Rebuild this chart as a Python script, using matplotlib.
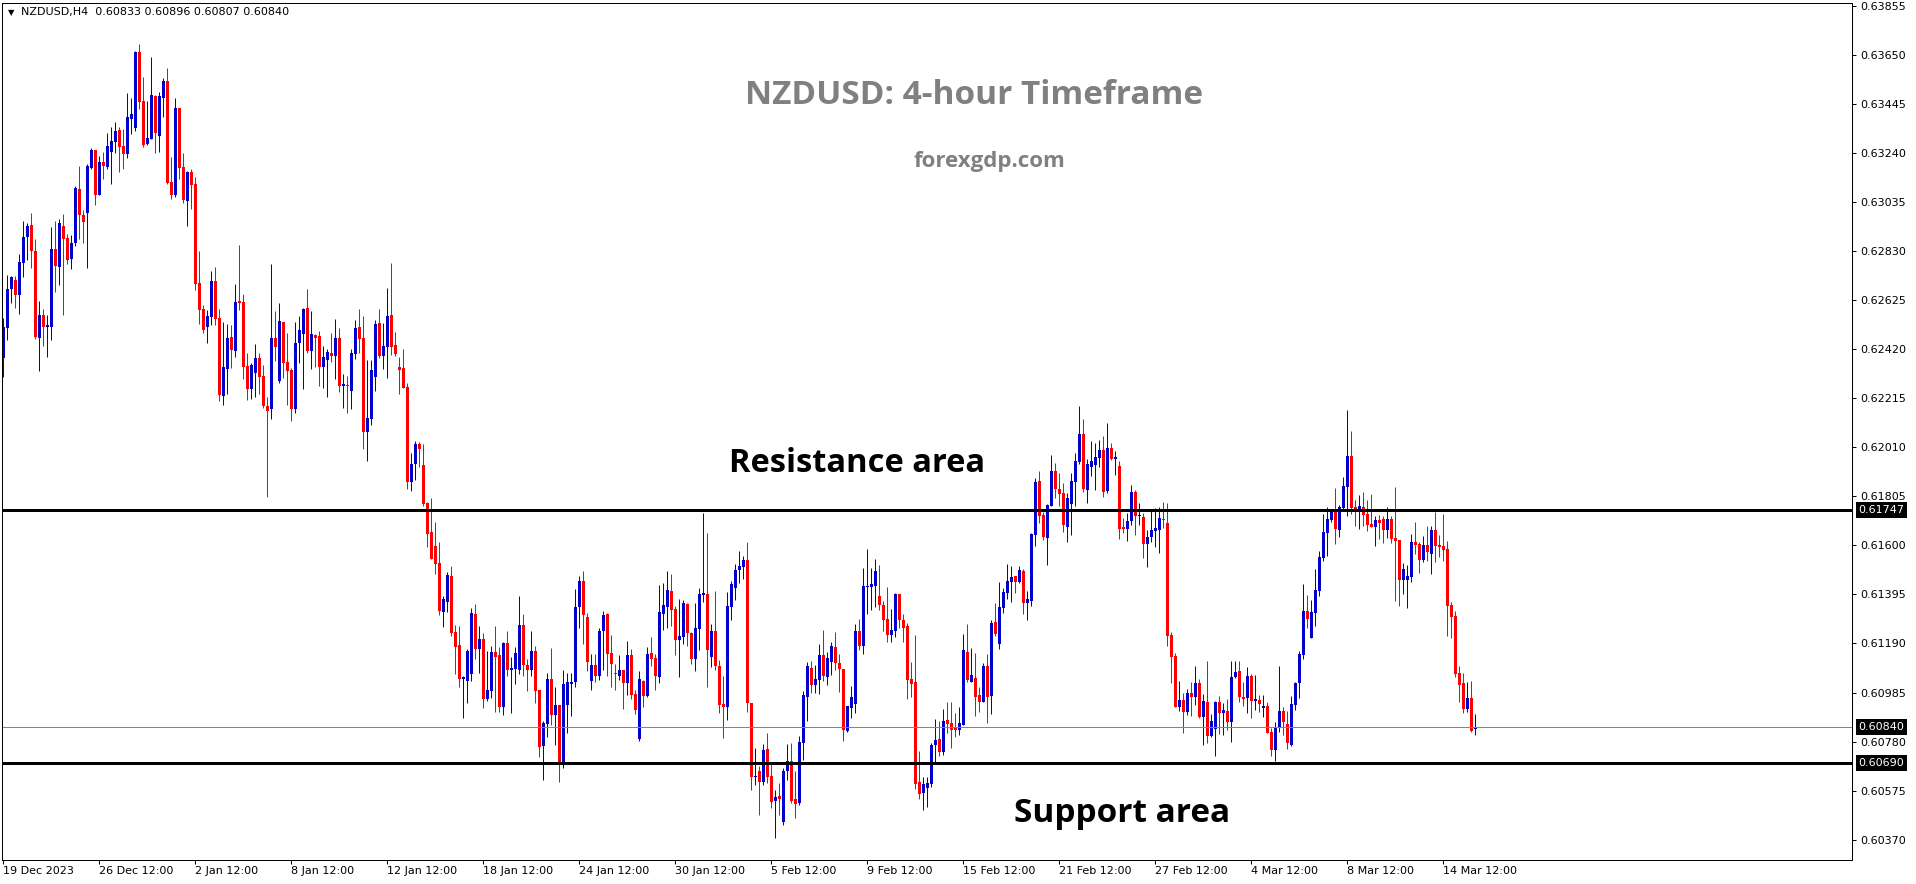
import numpy as np
import matplotlib
matplotlib.use('Agg')
import matplotlib.pyplot as plt
from matplotlib.transforms import blended_transform_factory

# NZDUSD H4 candles, prices in points (1e-5)
opens = [
    62382, 62507, 62670, 62709, 62647, 62782, 62888, 62939, 62832, 62465, 62563, 62514,
    62514, 62839, 62765, 62935, 62883, 62797, 62862, 63088, 62981, 62991, 63179, 63253,
    63064, 63201, 63183, 63246, 63287, 63336, 63269, 63236, 63382, 63343, 63662, 63457,
    63278, 63298, 63480, 63311, 63471, 63541, 63117, 63064, 63427, 63181, 63041, 63159,
    63110, 62695, 62587, 62514, 62556, 62705, 62549, 62226, 62337, 62470, 62414, 62621,
    62616, 62350, 62253, 62321, 62385, 62307, 62182, 62170, 62465, 62287, 62532, 62365,
    62333, 62170, 62444, 62483, 62590, 62413, 62479, 62475, 62347, 62374, 62406, 62391,
    62465, 62267, 62270, 62246, 62399, 62511, 62465, 62075, 62128, 62305, 62530, 62391,
    62430, 62562, 62437, 62347, 62340, 62263, 61866, 61940, 62023, 61936, 61775, 61654,
    61597, 61525, 61323, 61362, 61472, 61239, 61183, 61041, 61034, 61062, 61313, 61167,
    61208, 60958, 60992, 61153, 61142, 60926, 61194, 61077, 61084, 61077, 61268, 61098,
    61077, 61159, 60996, 60763, 60854, 61042, 60892, 60933, 60690, 60933, 61021, 61027,
    61341, 61449, 61302, 61035, 61100, 61056, 61244, 61314, 61149, 61068, 61056, 61080,
    61024, 61140, 60979, 60791, 61035, 60971, 61151, 61131, 61048, 61314, 61344, 61410,
    61334, 61205, 61219, 61355, 61233, 61126, 61251, 61393, 61397, 61135, 61243, 61096,
    60937, 60926, 61344, 61421, 61497, 61511, 61539, 60943, 60630, 60655, 60613, 60749,
    60634, 60532, 60553, 60443, 60655, 60699, 60540, 60525, 60776, 60968, 61089, 61017,
    61038, 61140, 61048, 61114, 61177, 61110, 61084, 60826, 60919, 60937, 61244, 61181,
    61424, 61425, 61431, 61389, 61351, 61293, 61226, 61240, 61397, 61286, 61261, 61042,
    61027, 60610, 60564, 60585, 60603, 60766, 60791, 60738, 60871, 60857, 60836, 60829,
    60850, 61153, 61031, 61045, 60975, 60947, 61094, 60971, 61279, 61188, 61337, 61402,
    61448, 61472, 61445, 61493, 61360, 61369, 61643, 61869, 61727, 61632, 61766, 61911,
    61835, 61817, 61678, 61773, 61866, 61949, 62065, 61831, 61929, 61936, 61966, 61998,
    61827, 62005, 61961, 61931, 61678, 61667, 61702, 61824, 61722, 61720, 61604, 61636,
    61661, 61664, 61709, 61692, 61225, 61139, 60926, 60954, 60905, 60984, 60967, 61026,
    60884, 60947, 60804, 60831, 60947, 60901, 60908, 60863, 61048, 61076, 60967, 60960,
    61054, 60951, 60954, 60919, 60928, 60821, 60745, 60839, 60908, 60853, 60765, 60933,
    61026, 61142, 61327, 61214, 61318, 61410, 61548, 61653, 61706, 61745, 61664, 61757,
    61845, 61973, 61761, 61754, 61759, 61731, 61689, 61678, 61706, 61710, 61664, 61710,
    61629, 61622, 61455, 61455, 61469, 61612, 61605, 61539, 61601, 61562, 61664, 61601,
    61597, 61583, 61351, 61305, 61065, 61023, 60915, 60963, 60833,
]
highs = [
    62549, 62730, 62727, 62727, 62818, 62956, 62946, 62991, 62881, 62623, 62588, 62563,
    62932, 62956, 62964, 62985, 62901, 62897, 63103, 63186, 63002, 63194, 63262, 63253,
    63227, 63244, 63325, 63349, 63370, 63349, 63340, 63491, 63470, 63668, 63695, 63559,
    63457, 63643, 63482, 63496, 63555, 63597, 63225, 63468, 63427, 63241, 63166, 63173,
    63141, 62832, 62605, 62584, 62748, 62765, 62587, 62532, 62525, 62521, 62693, 62856,
    62651, 62406, 62363, 62440, 62405, 62353, 62221, 62775, 62579, 62614, 62535, 62489,
    62340, 62535, 62558, 62594, 62671, 62579, 62483, 62497, 62433, 62420, 62486, 62546,
    62509, 62316, 62307, 62420, 62541, 62586, 62560, 62374, 62374, 62541, 62586, 62530,
    62677, 62781, 62493, 62388, 62420, 62280, 61987, 62036, 62030, 62023, 61780, 61796,
    61696, 61612, 61389, 61490, 61513, 61267, 61263, 61054, 61165, 61337, 61357, 61263,
    61235, 61158, 61179, 61263, 61177, 61198, 61240, 61135, 61177, 61389, 61314, 61126,
    61240, 61181, 60996, 60864, 61068, 61173, 61006, 60933, 61080, 61068, 61066, 61418,
    61470, 61491, 61319, 61146, 61146, 61256, 61326, 61316, 61226, 61105, 61140, 61080,
    61202, 61167, 60996, 61075, 61038, 61177, 61219, 61145, 61435, 61442, 61493, 61481,
    61347, 61376, 61372, 61358, 61236, 61361, 61421, 61737, 61651, 61272, 61410, 61121,
    61052, 61403, 61449, 61521, 61577, 61557, 61612, 60943, 60752, 60676, 60769, 60815,
    60690, 60578, 60606, 60669, 60769, 60773, 60655, 60804, 60992, 61112, 61117, 61098,
    61188, 61247, 61156, 61198, 61236, 61146, 61084, 60929, 61014, 61272, 61293, 61507,
    61585, 61507, 61543, 61518, 61369, 61425, 61334, 61400, 61397, 61314, 61275, 61114,
    61226, 60742, 60630, 60630, 60773, 60875, 60868, 60917, 60947, 60947, 60899, 60926,
    61230, 61272, 61173, 61152, 61006, 61110, 61146, 61286, 61361, 61448, 61423, 61522,
    61515, 61472, 61514, 61501, 61409, 61653, 61880, 61912, 61741, 61773, 61977, 61945,
    61904, 61862, 61820, 61901, 61984, 62184, 62128, 61959, 62036, 62026, 62040, 62057,
    62112, 62029, 61994, 61952, 61715, 61734, 61852, 61831, 61775, 61736, 61664, 61754,
    61757, 61759, 61780, 61775, 61239, 61149, 61033, 60984, 60998, 61027, 61096, 61040,
    60979, 61116, 60895, 60949, 60970, 60942, 60958, 61116, 61118, 61116, 61030, 61090,
    61062, 61058, 60974, 60974, 60944, 60838, 60862, 61096, 60926, 60908, 60972, 61030,
    61158, 61438, 61392, 61371, 61501, 61576, 61731, 61759, 61754, 61841, 61768, 61884,
    62165, 62079, 61789, 61810, 61824, 61789, 61814, 61722, 61727, 61722, 61761, 61722,
    61845, 61622, 61527, 61518, 61647, 61699, 61615, 61640, 61681, 61681, 61741, 61643,
    61731, 61618, 61364, 61325, 61096, 61068, 61027, 61033, 60896,
]
lows = [
    62305, 62459, 62615, 62594, 62567, 62723, 62793, 62761, 62463, 62330, 62435, 62389,
    62459, 62660, 62688, 62563, 62776, 62755, 62853, 62881, 62862, 62761, 63173, 63023,
    63064, 63131, 63173, 63110, 63239, 63161, 63173, 63218, 63319, 63332, 63424, 63265,
    63273, 63298, 63241, 63243, 63392, 63109, 63048, 63055, 63131, 63032, 62935, 63006,
    62667, 62525, 62489, 62447, 62521, 62521, 62205, 62187, 62233, 62343, 62389, 62584,
    62296, 62208, 62211, 62221, 62232, 62175, 61803, 62128, 62370, 62280, 62300, 62186,
    62121, 62154, 62363, 62253, 62405, 62337, 62344, 62266, 62259, 62221, 62367, 62295,
    62242, 62175, 62154, 62170, 62380, 62405, 62002, 61954, 62105, 62246, 62381, 62335,
    62300, 62395, 62391, 62232, 62256, 61835, 61828, 61873, 61929, 61764, 61594, 61545,
    61480, 61309, 61260, 61320, 61221, 61062, 61009, 60877, 60942, 61034, 61123, 61068,
    60922, 60951, 60963, 60905, 60905, 60892, 61052, 60899, 61021, 61063, 61055, 60992,
    61052, 60943, 60717, 60620, 60801, 60850, 60766, 60613, 60669, 60815, 60885, 61006,
    61254, 61188, 61073, 60996, 61031, 61038, 61080, 61056, 61010, 60996, 61038, 60917,
    60975, 60957, 60896, 60783, 60926, 60968, 61094, 60996, 61024, 61247, 61256, 61261,
    61142, 61048, 61188, 61180, 61105, 61075, 61163, 61365, 61010, 61091, 61080, 60899,
    60794, 60871, 61286, 61372, 61442, 61460, 60905, 60578, 60599, 60474, 60599, 60606,
    60504, 60379, 60474, 60432, 60620, 60525, 60462, 60513, 60703, 60864, 60985, 60985,
    60979, 61034, 61017, 61059, 61077, 60989, 60784, 60822, 60878, 60901, 61163, 61146,
    61314, 61330, 61344, 61330, 61240, 61198, 61198, 61219, 61254, 61198, 60957, 60968,
    60581, 60539, 60492, 60506, 60589, 60694, 60720, 60724, 60815, 60752, 60797, 60808,
    60850, 61031, 61028, 60885, 60905, 60944, 60857, 60894, 61222, 61167, 61318, 61376,
    61364, 61402, 61441, 61313, 61288, 61346, 61597, 61695, 61622, 61518, 61764, 61800,
    61764, 61657, 61615, 61643, 61764, 61940, 61824, 61778, 61890, 61831, 61926, 61803,
    61820, 61956, 61894, 61626, 61650, 61618, 61685, 61643, 61685, 61548, 61511, 61615,
    61594, 61569, 61674, 61179, 61026, 60923, 60909, 60814, 60891, 60888, 60933, 60877,
    60765, 60772, 60800, 60720, 60811, 60809, 60828, 60779, 61044, 60944, 60930, 60901,
    60877, 60912, 60905, 60884, 60814, 60720, 60700, 60821, 60807, 60747, 60761, 60912,
    60960, 61123, 61256, 61214, 61264, 61390, 61534, 61557, 61699, 61605, 61636, 61745,
    61722, 61731, 61681, 61668, 61681, 61660, 61675, 61598, 61625, 61611, 61632, 61608,
    61369, 61346, 61396, 61339, 61448, 61564, 61486, 61532, 61536, 61480, 61532, 61553,
    61536, 61222, 61211, 61051, 60947, 60901, 60905, 60821, 60807,
]
closes = [
    62514, 62670, 62720, 62647, 62783, 62888, 62935, 62832, 62472, 62563, 62514, 62521,
    62839, 62769, 62946, 62879, 62793, 62862, 63092, 62981, 62953, 63186, 63253, 63064,
    63201, 63186, 63269, 63290, 63332, 63266, 63236, 63389, 63403, 63663, 63455, 63273,
    63301, 63482, 63325, 63478, 63541, 63113, 63064, 63427, 63179, 63044, 63159, 63106,
    62693, 62584, 62500, 62559, 62705, 62546, 62229, 62344, 62465, 62417, 62619, 62615,
    62347, 62254, 62353, 62385, 62305, 62182, 62161, 62465, 62430, 62537, 62363, 62330,
    62170, 62444, 62500, 62586, 62413, 62483, 62468, 62347, 62388, 62409, 62391, 62465,
    62267, 62274, 62267, 62405, 62507, 62462, 62075, 62131, 62333, 62525, 62391, 62433,
    62558, 62430, 62399, 62333, 62259, 61866, 61940, 62023, 62002, 61773, 61647, 61545,
    61522, 61325, 61376, 61476, 61235, 61176, 61041, 61048, 61158, 61316, 61167, 61208,
    60958, 60995, 61153, 61135, 60926, 61194, 61077, 61089, 61152, 61268, 61098, 61077,
    61159, 60993, 60759, 60859, 61042, 60892, 60933, 60690, 61021, 61027, 61031, 61344,
    61449, 61307, 61114, 61100, 61056, 61244, 61309, 61145, 61103, 61061, 61080, 61024,
    61140, 60975, 60912, 61042, 60971, 61146, 61126, 61052, 61323, 61351, 61414, 61330,
    61205, 61222, 61358, 61233, 61126, 61254, 61397, 61400, 61163, 61243, 61094, 60931,
    60926, 61347, 61439, 61497, 61514, 61539, 60940, 60630, 60634, 60613, 60745, 60630,
    60529, 60550, 60540, 60659, 60699, 60532, 60520, 60780, 60975, 61094, 61017, 61042,
    61142, 61052, 61131, 61181, 61107, 61082, 60829, 60929, 60968, 61243, 61181, 61431,
    61431, 61438, 61493, 61351, 61289, 61226, 61247, 61397, 61289, 61254, 61038, 61021,
    60603, 60561, 60603, 60606, 60766, 60787, 60738, 60868, 60853, 60829, 60829, 60857,
    61163, 61038, 61059, 60968, 60947, 61094, 60968, 61275, 61230, 61344, 61406, 61451,
    61466, 61448, 61497, 61360, 61376, 61647, 61863, 61722, 61636, 61768, 61911, 61834,
    61814, 61685, 61796, 61869, 61952, 62065, 61835, 61940, 61952, 61970, 61998, 61824,
    62009, 61961, 61968, 61668, 61667, 61702, 61821, 61722, 61727, 61605, 61636, 61664,
    61671, 61713, 61706, 61222, 61135, 60926, 60954, 60905, 60984, 60967, 61026, 60884,
    60949, 60804, 60866, 60947, 60901, 60912, 60863, 61048, 61072, 60965, 60958, 61054,
    60951, 60958, 60937, 60928, 60817, 60745, 60838, 60908, 60863, 60772, 60937, 61026,
    61144, 61327, 61291, 61323, 61413, 61553, 61654, 61710, 61745, 61668, 61759, 61848,
    61973, 61757, 61752, 61764, 61727, 61685, 61678, 61706, 61695, 61664, 61710, 61626,
    61619, 61455, 61501, 61473, 61612, 61601, 61539, 61601, 61573, 61664, 61598, 61594,
    61580, 61348, 61302, 61062, 61016, 60915, 60963, 60825, 60840,
]

resistance = 0.61747
support = 0.60690
last_price = 0.60840

ytick_vals = [0.63855, 0.63650, 0.63445, 0.63240, 0.63035, 0.62830, 0.62625, 0.62420, 0.62215,
              0.62010, 0.61805, 0.61600, 0.61395, 0.61190, 0.60985, 0.60780, 0.60575, 0.60370]
xtick_labels = ['19 Dec 2023', '26 Dec 12:00', '2 Jan 12:00', '8 Jan 12:00', '12 Jan 12:00',
                '18 Jan 12:00', '24 Jan 12:00', '30 Jan 12:00', '5 Feb 12:00', '9 Feb 12:00',
                '15 Feb 12:00', '21 Feb 12:00', '27 Feb 12:00', '4 Mar 12:00', '8 Mar 12:00',
                '14 Mar 12:00']
bars_per_label = 24

W, H = 1916, 884
PX = 72.0 / 100  # one pixel in points

o = np.array(opens) / 1e5
h = np.array(highs) / 1e5
l = np.array(lows) / 1e5
c = np.array(closes) / 1e5
x = np.arange(len(c))
up = c >= o
col = np.where(up, '#0000cc', '#ff0000')

fig = plt.figure(figsize=(W / 100, H / 100), dpi=100)
ax = fig.add_axes([2.3 / W, 1 - 860 / H, 1850 / W, 857.3 / H])
ax.set_xlim(-0.25, 462.25)
ax.set_ylim(0.60285, 0.63868)

ax.vlines(x, l, h, colors=col, linewidth=PX)
body = np.maximum(np.abs(c - o), 0.000024)
ax.bar(x, body, bottom=np.minimum(o, c), width=0.75, color=col, linewidth=0)

ax.axhline(resistance, color='black', lw=3 * PX)
ax.axhline(support, color='black', lw=3 * PX)
ax.axhline(last_price, color='#778899', lw=PX)

for s in ax.spines.values():
    s.set_linewidth(PX)
    s.set_color('black')

ax.yaxis.tick_right()
ax.set_yticks(ytick_vals)
ax.set_yticklabels(['%.5f' % v for v in ytick_vals])
ax.tick_params(axis='y', length=4 * PX, width=PX, pad=2.5, labelsize=8, colors='black')
ax.set_xticks(np.arange(len(xtick_labels)) * bars_per_label)
ax.set_xticklabels(xtick_labels, ha='left')
ax.tick_params(axis='x', length=4 * PX, width=PX, pad=1.5, labelsize=8, colors='black')

# price tags on the right scale
tr = blended_transform_factory(ax.transAxes, ax.transData)
for v in (resistance, last_price, support):
    ax.text(1.0 + 6 / 1850, v, '%.5f' % v, transform=tr, color='white', fontsize=8,
            va='center', ha='left',
            bbox=dict(boxstyle='square,pad=0.25', fc='black', ec='none'))

fig.text(8 / W, 1 - 12.5 / H, '\u25bc', fontsize=6, va='center', ha='left')
fig.text(21 / W, 1 - 12.5 / H, 'NZDUSD,H4  0.60833 0.60896 0.60807 0.60840', fontsize=8,
         va='center', ha='left')

fig.text(974 / W, 1 - 95 / H, 'NZDUSD: 4-hour Timeframe', fontsize=24, fontweight='bold',
         family='Open Sans', color='#808080', ha='center', va='center')
fig.text(989 / W, 1 - 161 / H, 'forexgdp.com', fontsize=16, fontweight='bold',
         family='Open Sans', color='#808080', ha='center', va='center')
fig.text(857 / W, 1 - 463 / H, 'Resistance area', fontsize=23.5, fontweight='bold',
         family='Open Sans', color='black', ha='center', va='center')
fig.text(1122 / W, 1 - 814 / H, 'Support area', fontsize=24, fontweight='bold',
         family='Open Sans', color='black', ha='center', va='center')

fig.savefig('out.png', dpi=100)
